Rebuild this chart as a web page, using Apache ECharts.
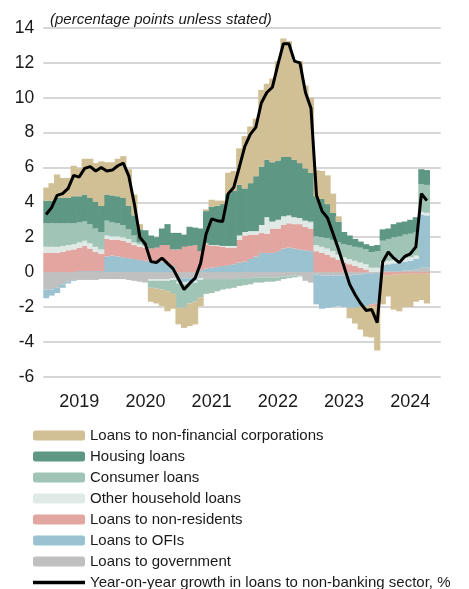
<!DOCTYPE html>
<html>
<head>
<meta charset="utf-8">
<script src="https://cdn.jsdelivr.net/npm/echarts@6/dist/echarts.min.js"></script>
<style>
html,body{margin:0;padding:0;background:#fff;}
#chart{width:469px;height:589px;}
</style>
</head>
<body>
<div id="chart"></div>
<script>
const months = [
 '2019-01','2019-02','2019-03','2019-04','2019-05','2019-06','2019-07','2019-08','2019-09','2019-10','2019-11','2019-12',
 '2020-01','2020-02','2020-03','2020-04','2020-05','2020-06','2020-07','2020-08','2020-09','2020-10','2020-11','2020-12',
 '2021-01','2021-02','2021-03','2021-04','2021-05','2021-06','2021-07','2021-08','2021-09','2021-10','2021-11','2021-12',
 '2022-01','2022-02','2022-03','2022-04','2022-05','2022-06','2022-07','2022-08','2022-09','2022-10','2022-11','2022-12',
 '2023-01','2023-02','2023-03','2023-04','2023-05','2023-06','2023-07','2023-08','2023-09','2023-10','2023-11','2023-12',
 '2024-01','2024-02','2024-03','2024-04','2024-05','2024-06','2024-07','2024-08','2024-09','2024-10','2024-11','2024-12'
];
const yearLabels = ['2019','2020','2021','2022','2023','2024'];

const gov = [-1.0,-1.0,-0.9,-0.7,-0.55,-0.45,-0.45,-0.45,-0.45,-0.45,-0.4,-0.4,
 -0.4,-0.4,-0.4,-0.45,-0.5,-0.55,-0.6,-0.4,-0.4,-0.4,-0.4,-0.35,
 -0.35,-0.35,-0.35,-0.35,-0.35,-0.4,-0.4,-0.4,-0.4,-0.4,-0.4,-0.35,
 -0.35,-0.35,-0.3,-0.3,-0.3,-0.3,-0.3,-0.25,-0.25,-0.2,-0.2,-0.5,
 -0.6,-0.15,-0.2,-0.2,-0.2,-0.2,-0.2,-0.2,-0.15,-0.15,-0.1,-0.1,
 -0.05,0.05,0.05,0.05,0.05,0.1,0.1,0.15,0.25,0.25];
const ofi = [-0.5,-0.35,-0.3,-0.2,-0.1,-0.05,0.05,0.05,0.05,0.05,0.05,0.9,
 0.95,0.9,0.85,0.8,0.75,0.7,0.65,0.6,0.55,0.6,0.55,0.35,
 -0.2,-0.25,-0.2,-0.15,0.1,0.2,0.25,0.3,0.35,0.4,0.45,0.55,
 0.6,0.75,0.9,1.1,1.1,1.1,1.2,1.35,1.4,1.35,1.3,1.25,
 1.2,-1.7,-1.9,-1.85,-1.8,-1.75,-1.8,-1.85,-1.9,-1.85,-1.85,-1.75,
 -1.75,0.35,0.4,0.45,0.5,0.5,0.55,0.6,3.05,3.0];
const nonres = [1.1,1.1,1.1,1.15,1.25,1.3,1.35,1.45,1.3,1.1,1.0,1.0,
 0.9,0.95,0.95,0.9,0.8,0.75,0.75,0.75,0.85,0.95,1.0,0.95,
 1.3,1.45,1.5,1.55,1.1,1.4,1.25,1.2,1.1,1.0,0.95,1.3,
 1.5,1.4,1.25,1.15,1.1,1.4,1.3,1.35,1.4,1.4,1.45,1.35,
 1.3,1.2,1.1,1.0,0.85,0.7,0.55,0.45,0.35,0.25,0.15,-0.1,
 -0.15,-0.2,-0.2,-0.15,-0.15,-0.1,-0.1,-0.1,-0.1,-0.1];
const otherHh = [0.35,0.35,0.35,0.35,0.3,0.3,0.3,0.3,0.3,0.3,0.25,0.2,
 0.2,0.2,0.2,0.2,0.15,0.15,0.1,-0.1,-0.1,-0.1,-0.1,-0.1,
 -0.1,-0.1,-0.1,-0.1,-0.1,0.05,0.05,0.05,0.05,0.1,0.1,0.25,
 0.2,0.2,0.2,0.45,0.95,0.4,0.5,0.5,0.45,0.4,0.35,0.35,
 0.35,0.35,0.35,0.35,0.35,0.3,0.3,0.3,0.3,0.3,0.3,0.25,
 0.25,0.2,0.2,0.2,0.2,0.2,0.2,0.2,0.15,0.15];
const consumer = [1.35,1.35,1.35,1.3,1.25,1.2,1.15,1.1,1.1,1.05,1.0,0.85,
 0.8,0.75,0.7,0.55,0.4,0.1,0.05,-0.4,-0.45,-0.5,-0.6,-0.8,
 -1.4,-1.35,-1.15,-1.1,-1.0,-0.85,-0.8,-0.7,-0.6,-0.55,-0.5,-0.45,
 -0.4,-0.35,-0.3,-0.3,-0.25,-0.25,-0.2,-0.15,-0.1,-0.1,-0.05,0.0,
 0.05,0.5,0.55,0.6,0.65,0.7,0.75,0.8,0.8,0.85,0.85,0.9,
 0.95,1.2,1.25,1.3,1.3,1.35,1.35,1.35,1.6,1.6];
const housing = [1.3,1.3,1.45,1.45,1.45,1.55,1.5,1.55,1.5,1.55,1.5,1.5,
 1.55,1.55,1.55,1.35,1.15,0.75,0.85,0.75,0.6,0.95,1.2,0.95,
 0.95,0.7,1.1,1.0,1.3,1.85,2.2,2.25,2.4,3.0,3.15,2.9,
 2.5,2.75,3.15,3.35,3.3,3.4,3.4,3.4,3.35,3.3,3.15,3.0,
 2.8,2.3,2.2,1.95,1.55,1.2,0.7,0.55,0.45,0.35,0.3,0.35,
 0.35,0.65,0.6,0.75,0.8,0.75,0.8,0.85,0.85,0.85];
const nfc = [0.75,1.0,1.35,1.15,1.15,1.75,1.6,2.05,2.25,2.2,2.55,1.85,
 1.9,2.15,2.4,2.1,1.2,0.3,0.0,-0.8,-0.85,-0.95,-1.15,-0.85,
 -0.95,-1.15,-1.3,-1.3,-0.5,0.1,0.4,0.3,0.2,1.2,1.15,2.1,
 3.0,3.25,3.3,4.4,4.35,4.8,5.7,6.8,6.65,5.65,5.85,4.75,
 4.3,1.5,1.6,1.65,1.1,0.3,0.0,-0.6,-0.9,-1.3,-1.75,-1.8,
 -2.55,-1.65,-1.2,-2.0,-2.1,-1.9,-1.9,-1.6,-1.5,-1.7];
const yoyGrowth = [3.3,3.7,4.4,4.5,4.8,5.55,5.45,5.95,6.05,5.8,6.0,5.8,
 5.85,6.1,6.25,5.5,3.9,2.0,1.6,0.6,0.55,0.8,0.5,0.2,
 -0.4,-1.0,-0.65,-0.35,0.5,2.2,3.05,2.95,2.9,4.5,4.85,6.0,
 7.2,7.9,8.3,9.7,10.3,10.6,11.9,13.1,13.1,12.1,12.0,10.3,
 9.4,4.4,3.5,3.1,2.2,1.3,0.3,-0.7,-1.3,-1.8,-2.2,-2.15,
 -2.9,0.6,1.15,0.8,0.55,0.9,1.05,1.45,4.5,4.1];

const names = {
  nfc: 'Loans to non-financial corporations',
  housing: 'Housing loans',
  consumer: 'Consumer loans',
  other: 'Other household loans',
  nonres: 'Loans to non-residents',
  ofi: 'Loans to OFIs',
  gov: 'Loans to government',
  line: 'Year-on-year growth in loans to non-banking sector, %'
};
const colors = {
  nfc: '#D1C095', housing: '#5E9783', consumer: '#A0C4B6', other: '#DFE9E5',
  nonres: '#E2A59F', ofi: '#9AC2D0', gov: '#C0C0C0'
};
const font = "'Liberation Sans',Arial,sans-serif";

function barSeries(key, data) {
  return {
    name: names[key], type: 'bar', stack: 'total', data: data,
    barWidth: 6.2,
    itemStyle: { color: colors[key] },
    emphasis: { disabled: true }, animation: false
  };
}

const chart = echarts.init(document.getElementById('chart'), null, { renderer: 'canvas' });
chart.setOption({
  animation: false,
  backgroundColor: '#fff',
  title: {
    text: '(percentage points unless stated)',
    left: 50, top: 12, padding: 0,
    textStyle: { fontFamily: font, fontStyle: 'italic', fontWeight: 'normal', fontSize: 15, color: '#1a1a1a' }
  },
  grid: { left: 43.3, right: 28.3, top: 28, bottom: 212.3, containLabel: false },
  xAxis: {
    type: 'category', data: months, boundaryGap: true,
    axisLine: { show: false }, axisTick: { show: false },
    axisLabel: {
      interval: function (idx) { return idx % 12 === 6; },
      formatter: function (v) { return yearLabels[yearLabels.indexOf(v.slice(0, 4))]; },
      fontFamily: font, fontSize: 18, color: '#1a1a1a', margin: 16
    },
    splitLine: { show: false }
  },
  yAxis: {
    type: 'value', min: -6, max: 14, interval: 2,
    axisLine: { show: false }, axisTick: { show: false },
    axisLabel: { fontFamily: font, fontSize: 17.5, color: '#1a1a1a', margin: 9 },
    splitLine: { lineStyle: { color: '#c8c8c8', width: 1.5 } }
  },
  legend: {
    orient: 'vertical', left: 33, top: 428, height: 220, padding: 0,
    itemWidth: 52, itemHeight: 10, itemGap: 6,
    textStyle: { fontFamily: font, fontSize: 15, color: '#1a1a1a', lineHeight: 15 },
    selectedMode: false,
    data: [names.nfc, names.housing, names.consumer, names.other, names.nonres, names.ofi, names.gov,
      { name: names.line, icon: 'path://M0,0 L52,0 L52,3.5 L0,3.5 Z', itemStyle: { color: '#000' } }]
  },
  series: [
    barSeries('gov', gov),
    barSeries('ofi', ofi),
    barSeries('nonres', nonres),
    barSeries('other', otherHh),
    barSeries('consumer', consumer),
    barSeries('housing', housing),
    barSeries('nfc', nfc),
    {
      name: names.line, type: 'line', data: yoyGrowth, symbol: 'none', z: 10,
      lineStyle: { color: '#000', width: 3 }, itemStyle: { color: '#000' },
      emphasis: { disabled: true }, animation: false
    }
  ]
});
</script>
</body>
</html>
